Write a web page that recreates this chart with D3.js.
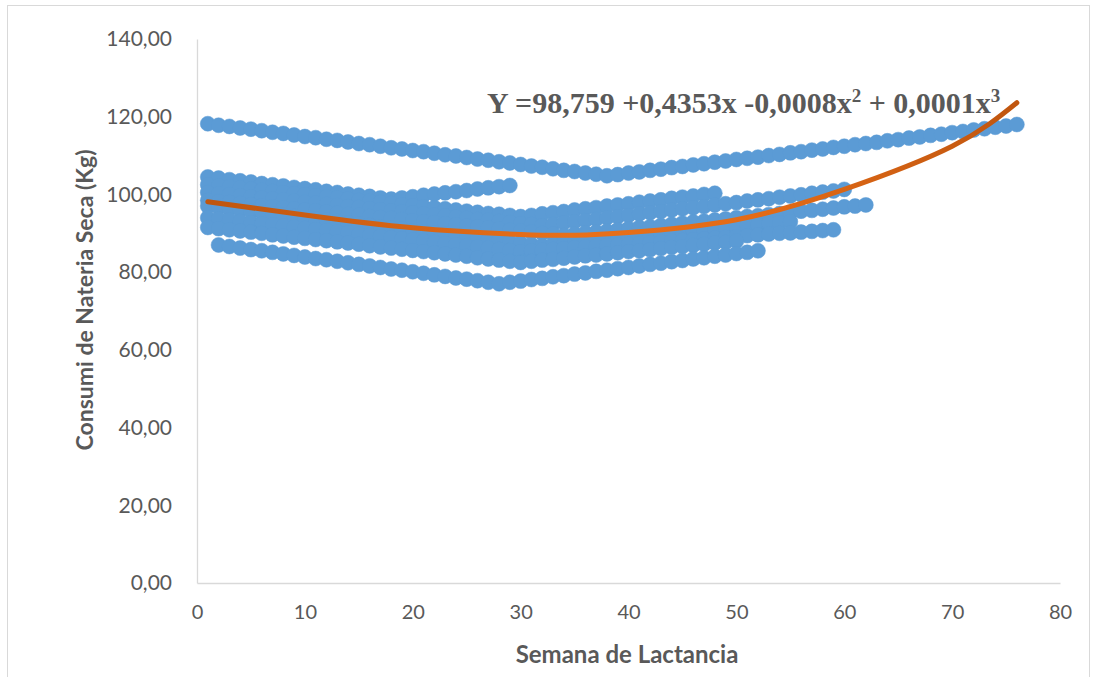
<!DOCTYPE html>
<html><head><meta charset="utf-8">
<script src="https://cdn.jsdelivr.net/npm/d3@7"></script>
<style>body{margin:0;background:#fff}svg{display:block}</style>
</head><body>
<svg id="chart" width="1097" height="677"></svg>
<script>
// ---- data ----
const xTicks = [0,10,20,30,40,50,60,70,80];
const yTicks = [0,20,40,60,80,100,120,140];
const xTitle = "Semana de Lactancia";
const yTitle = "Consumi de Nateria Seca (Kg)";

// first week of each series
const seriesStart = [1,1,1,1,1,1,1,1,2];

const serie1 = [118.2,117.8,117.5,117.1,116.8,116.4,116.0,115.7,115.3,114.9,114.6,114.2,113.9,113.5,113.1,112.8,112.4,112.0,111.7,111.3,111.0,110.6,110.2,109.9,109.5,109.1,108.8,108.4,108.1,107.7,107.3,107.0,106.6,106.2,105.9,105.5,105.2,104.8,105.1,105.5,105.8,106.2,106.5,106.9,107.2,107.6,107.9,108.3,108.6,109.0,109.3,109.6,110.0,110.3,110.7,111.0,111.4,111.7,112.1,112.4,112.8,113.1,113.4,113.8,114.1,114.5,114.8,115.2,115.5,115.9,116.2,116.6,116.9,117.3,117.6,118.0];
const serie2 = [104.5,104.2,103.8,103.5,103.2,102.8,102.5,102.2,101.8,101.5,101.2,100.8,100.5,100.1,99.8,99.5,99.1,98.8,99.1,99.4,99.8,100.1,100.4,100.7,101.0,101.4,101.7,102.0,102.3];
const serie3 = [102.5,102.2,101.9,101.7,101.4,101.1,100.8,100.5,100.2,100.0,99.7,99.4,99.1,98.8,98.5,98.3,98.0,97.7,97.4,97.1,96.8,96.6,96.3,96.0,95.7,95.4,95.1,94.9,94.6,94.3,94.6,95.0,95.3,95.6,96.0,96.3,96.6,97.0,97.3,97.6,98.0,98.3,98.6,99.0,99.3,99.6,100.0,100.3];
const serie4 = [100.5,100.2,100.0,99.7,99.4,99.1,98.9,98.6,98.3,98.0,97.8,97.5,97.2,96.9,96.7,96.4,96.1,95.8,95.6,95.3,95.0,94.7,94.5,94.2,93.9,93.6,93.4,93.1,92.8,92.5,92.3,92.0,92.3,92.7,93.0,93.3,93.6,94.0,94.3,94.6,95.0,95.3,95.6,96.0,96.3,96.6,96.9,97.3,97.6,97.9,98.3,98.6,98.9,99.3,99.6,99.9,100.3,100.6,100.9,101.3];
const serie5 = [98.5,98.2,98.0,97.7,97.4,97.1,96.9,96.6,96.3,96.0,95.8,95.5,95.2,94.9,94.7,94.4,94.1,93.9,93.6,93.3,93.0,92.8,92.5,92.2,91.9,91.7,91.4,91.1,90.8,90.6,90.3,90.0,89.8,89.5,89.8,90.1,90.3,90.6,90.9,91.2,91.5,91.7,92.0,92.3,92.6,92.9,93.1,93.4,93.7,94.0,94.3,94.5,94.8,95.1,95.4,95.7,95.9,96.2,96.5,96.8,97.0,97.3];
const serie6 = [97.0,96.7,96.3,96.0,95.7,95.4,95.0,94.7,94.4,94.0,93.7,93.4,93.1,92.7,92.4,92.1,91.7,91.4,91.1,90.7,90.4,90.1,89.8,89.4,89.1,88.8,88.4,88.1,87.8,87.5,87.1,86.8,87.1,87.3,87.6,87.9,88.2,88.4,88.7,89.0,89.2,89.5,89.8,90.0,90.3,90.6,90.9,91.1,91.4,91.7,91.9,92.2,92.5,92.7,93.0];
const serie7 = [94.0,93.7,93.4,93.1,92.8,92.5,92.2,91.9,91.6,91.3,91.0,90.7,90.4,90.1,89.8,89.5,89.2,88.9,88.6,88.3,88.0,87.7,87.4,87.1,86.8,86.5,86.2,85.9,85.6,85.3,85.5,85.7,85.9,86.1,86.3,86.5,86.7,86.9,87.0,87.2,87.4,87.6,87.8,88.0,88.2,88.4,88.6,88.8,89.0,89.2,89.4,89.6,89.8,90.0,90.1,90.3,90.5,90.7,90.9];
const serie8 = [91.5,91.2,90.9,90.6,90.3,90.0,89.6,89.3,89.0,88.7,88.4,88.1,87.8,87.5,87.2,86.8,86.5,86.2,85.9,85.6,85.3,85.0,84.7,84.4,84.1,83.7,83.4,83.1,82.8,82.5,82.8,83.1,83.3,83.6,83.9,84.2,84.4,84.7,85.0,85.3,85.5,85.8,86.1,86.4,86.6,86.9,87.2,87.5,87.7,88.0];
const serie9 = [87.0,86.6,86.2,85.8,85.5,85.1,84.7,84.3,83.9,83.5,83.2,82.8,82.4,82.0,81.6,81.2,80.8,80.5,80.1,79.7,79.3,78.9,78.5,78.2,77.8,77.4,77.0,77.4,77.7,78.1,78.4,78.8,79.1,79.5,79.8,80.2,80.5,80.9,81.2,81.6,82.0,82.3,82.7,83.0,83.4,83.7,84.1,84.4,84.8,85.1,85.5];

// polynomial trend line as drawn
const trendWeeks  = [1,10,20,30,35,40,50,60,70,76];
const trendValues = [98.1,94.7,91.4,89.7,89.5,90.2,93.5,101.3,112.4,123.6];

// ---- chart ----
const allSeries = [serie1,serie2,serie3,serie4,serie5,serie6,serie7,serie8,serie9];
const svg = d3.select("#chart");
const m = {left:197, right:1060, top:39, bottom:583};
const x = d3.scaleLinear().domain([0,80]).range([m.left, m.right]);
const y = d3.scaleLinear().domain([0,140]).range([m.bottom, m.top]);
const grey = "#595959";
const font = "Lato, 'Open Sans', sans-serif";

svg.append("rect").attr("x",7.5).attr("y",5.5).attr("width",1082).attr("height",680)
  .attr("fill","#fff").attr("stroke","#D9D9D9").attr("stroke-width",1);

// axes
const yAxis = svg.append("g").attr("transform",`translate(${m.left},0)`)
  .call(d3.axisLeft(y).tickValues(yTicks).tickSize(0).tickPadding(25)
    .tickFormat(d => d3.format(".2f")(d).replace(".",",")));
const xAxis = svg.append("g").attr("transform",`translate(0,${m.bottom})`)
  .call(d3.axisBottom(x).tickValues(xTicks).tickSize(0).tickPadding(22));
[yAxis,xAxis].forEach(g=>{
  g.select(".domain").attr("stroke","#D9D9D9").attr("stroke-width",1.3);
  g.selectAll("text").attr("fill",grey).style("font-family",font).style("font-size","20px");
});
yAxis.selectAll("text").style("font-size","21px");

// points
const pts = [];
allSeries.forEach((s,i)=> s.forEach((v,j)=> pts.push({w: seriesStart[i]+j, v})));
svg.append("g").selectAll("circle").data(pts).join("circle")
  .attr("cx", d=>x(d.w)).attr("cy", d=>y(d.v)).attr("r",7.5)
  .attr("fill","#5B9BD5").attr("stroke","#5B9BD5").attr("stroke-width",0.5);

// trend line
const defs = svg.append("defs");
const grad = defs.append("linearGradient").attr("id","tg").attr("gradientUnits","userSpaceOnUse")
  .attr("x1",x(1)).attr("x2",x(76)).attr("y1",0).attr("y2",0);
[[0,"#C0560F"],[0.45,"#E8701A"],[0.7,"#E26A16"],[1,"#C0560F"]].forEach(([o,c])=>
  grad.append("stop").attr("offset",o).attr("stop-color",c));
const tdata = trendWeeks.map((w,i)=>({w, v: trendValues[i]}));
svg.append("path").datum(tdata)
  .attr("d", d3.line().x(d=>x(d.w)).y(d=>y(d.v)).curve(d3.curveNatural))
  .attr("fill","none").attr("stroke","url(#tg)").attr("stroke-width",5).attr("stroke-linecap","round");

// equation
const eq = svg.append("text").attr("x",487).attr("y",113)
  .style("font-family","'Liberation Serif','Times New Roman',serif").style("font-weight","bold")
  .style("font-size","30px").attr("fill",grey);
eq.append("tspan").text("Y =98,759 +0,4353x -0,0008x");
eq.append("tspan").text("2").attr("dy",-11).style("font-size","19px");
eq.append("tspan").text(" + 0,0001x").attr("dy",11);
eq.append("tspan").text("3").attr("dy",-11).style("font-size","19px");

// axis titles
svg.append("text").attr("x",627).attr("y",663).attr("text-anchor","middle")
  .style("font-family",font).style("font-weight","bold").style("font-size","24px")
  .attr("fill",grey).text(xTitle);
svg.append("text").attr("transform","translate(93,300) rotate(-90)").attr("text-anchor","middle")
  .style("font-family",font).style("font-weight","bold").style("font-size","23px")
  .attr("fill",grey).text(yTitle);
</script>
</body></html>
